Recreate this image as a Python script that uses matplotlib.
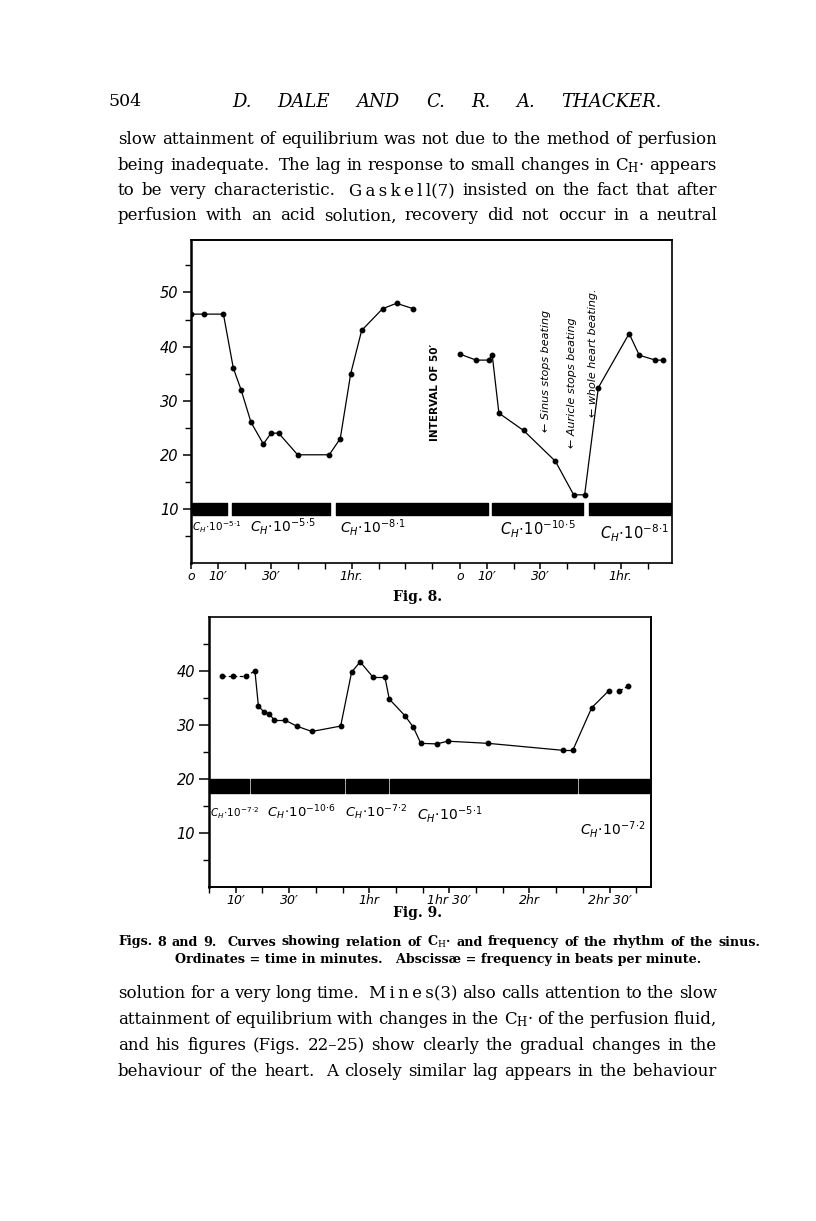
import matplotlib
matplotlib.use('Agg')
import matplotlib.pyplot as plt

W, H = 816, 1221
plt.rcParams['mathtext.fontset'] = 'dejavuserif'

# ---- Fig. 8 : minutes against beats per minute ----
fig8_t1 = [0, 5.0, 12.1, 15.8, 18.7, 22.4, 27.0, 29.9, 32.7, 39.8, 51.6, 55.7, 59.6, 63.7, 71.5, 76.7, 82.9]
fig8_f1 = [46, 46, 46, 36, 32, 26, 22, 24, 24, 20, 20, 23, 35, 43, 47, 48, 47]
# second run, after the interval of 50'
fig8_t2 = [0, 6.0, 10.7, 12.0, 14.5, 23.7, 35.6, 42.4, 46.5, 51.6, 63.1, 66.9, 72.9, 75.7]
fig8_f2 = [38.6, 37.5, 37.5, 38.5, 27.7, 24.5, 18.8, 12.6, 12.6, 32.4, 42.4, 38.4, 37.5, 37.5]
fig8_offset = 100.4
fig8_bar_start = [0, 15.3, 54.1, 112.3, 148.5]
fig8_bar_end = [13.4, 51.9, 110.8, 146.3, 179.5]
fig8_labels = [r'$C_{H}\!\cdot\!10^{-5\!\cdot\!1}$', r'$C_{H}\!\cdot\!10^{-5\!\cdot\!5}$', r'$C_{H}\!\cdot\!10^{-8\!\cdot\!1}$',
               r'$C_{H}\!\cdot\!10^{-10\!\cdot\!5}$', r'$C_{H}\!\cdot\!10^{-8\!\cdot\!1}$']
fig8_xticks = [0, 10, 30, 60]
fig8_xticklabels = ['o', "10\u2032", "30\u2032", '1hr.']
fig8_notes = ['\u2190 Sinus stops beating', '\u2190 Auricle stops beating', '\u2190 whole heart beating.']

# ---- Fig. 9 ----
fig9_t = [5.0, 8.9, 13.7, 17.2, 18.5, 20.6, 22.6, 24.5, 28.5, 32.8, 38.5, 49.3, 53.4, 56.6, 61.5, 65.9, 67.5,
          73.4, 76.5, 79.3, 85.3, 89.4, 104.6, 132.7, 136.2, 143.3, 149.6, 153.7, 157.0]
fig9_f = [39.0, 39.0, 39.0, 40.0, 33.5, 32.4, 32.0, 30.9, 30.9, 29.8, 28.8, 29.8, 39.8, 41.7, 38.8, 38.8, 34.8,
          31.7, 29.6, 26.6, 26.5, 27.0, 26.6, 25.3, 25.3, 33.2, 36.3, 36.3, 37.2]
fig9_bar_edges = [0, 15, 50.6, 67, 137.8, 165.5]
fig9_labels = [r'$C_{H}\!\cdot\!10^{-7\!\cdot\!2}$', r'$C_{H}\!\cdot\!10^{-10\!\cdot\!6}$', r'$C_{H}\!\cdot\!10^{-7\!\cdot\!2}$',
               r'$C_{H}\!\cdot\!10^{-5\!\cdot\!1}$', r'$C_{H}\!\cdot\!10^{-7\!\cdot\!2}$']
fig9_xticks = [10, 30, 60, 90, 120, 150]
fig9_xticklabels = ["10\u2032", "30\u2032", '1hr', "1hr 30\u2032", '2hr', "2hr 30\u2032"]

top_para = ["slow attainment of equilibrium was not due to the method of perfusion",
            "being inadequate.  The lag in response to small changes in C$_\\mathrm{H}$\u00b7 appears",
            "to be very characteristic.  G\u2009a\u2009s\u2009k\u2009e\u2009l\u2009l(7) insisted on the fact that after",
            "perfusion with an acid solution, recovery did not occur in a neutral"]
bottom_para = ["solution for a very long time.  M\u2009i\u2009n\u2009e\u2009s(3) also calls attention to the slow",
               "attainment of equilibrium with changes in the C$_\\mathrm{H}$\u00b7 of the perfusion fluid,",
               "and his figures (Figs. 22\u201325) show clearly the gradual changes in the",
               "behaviour of the heart.  A closely similar lag appears in the behaviour"]

fig = plt.figure(figsize=(W / 100, H / 100), dpi=100)
fig.patch.set_facecolor('white')


def fy(y):
    return 1 - y / H


def justify(line, y, x0=118, x1=717, **kw):
    toks = line.split(' ')
    objs = [fig.text(0, fy(y), t, va='center', **kw) if t else None for t in toks]
    r = fig.canvas.get_renderer()
    widths = [o.get_window_extent(r).width if o else 0 for o in objs]
    gap = (x1 - x0 - sum(widths)) / (len(toks) - 1)
    x = x0
    for o, w in zip(objs, widths):
        if o:
            o.set_x(x / W)
        x += w + gap


serif = dict(family='DejaVu Serif', fontsize=12.0)
fig.text(108 / W, fy(102), '504', va='center', family='DejaVu Serif', fontsize=12.5)
justify('D. DALE AND C. R. A. THACKER.', 102, 232, 662, family='DejaVu Serif', fontsize=13, style='italic')
for i, line in enumerate(top_para):
    justify(line, 140 + i * 25.3, **serif)
for i, line in enumerate(bottom_para):
    justify(line, 994 + i * 25.7, **serif)

hand = dict(style='italic', family='DejaVu Sans', fontsize=10.5)
hx = dict(style='italic', family='DejaVu Sans', fontsize=9)

# ---------------- Fig. 8 ----------------
ax = fig.add_axes([191 / W, fy(563), 481 / W, 323 / H])
ax.set_xlim(0, 179.5)
ax.set_ylim(0, 59.7)
ax.plot(fig8_t1, fig8_f1, '-o', color='k', lw=0.9, ms=3.2)
ax.plot([fig8_offset + t for t in fig8_t2], fig8_f2, '-o', color='k', lw=0.9, ms=3.2)
ax.broken_barh([(s, e - s) for s, e in zip(fig8_bar_start, fig8_bar_end)], (8.9, 2.2), color='k')
for lab, x, y, fs in zip(fig8_labels, [0.3, 22, 55.6, 115.3, 152.6], [6.6, 6.8, 6.5, 6.2, 5.4],
                         [7.5, 10, 10, 10.5, 10.5]):
    ax.text(x, y, lab, fontsize=fs, math_fontfamily='dejavusans', va='center')
ax.text(91, 31.6, "INTERVAL OF 50\u2032", rotation=90, ha='center', va='center',
        fontsize=7.5, weight='bold', family='DejaVu Sans')
for note, x, y in zip(fig8_notes, [132.5, 142.2, 150], [24.2, 21.2, 27.0]):
    ax.text(x, y, note, rotation=90, ha='center', va='bottom', **dict(hand, fontsize=8))
ax.set_yticks([10, 20, 30, 40, 50])
ax.set_yticklabels(['10', '20', '30', '40', '50'], **hand)
ax.set_yticks([5, 15, 25, 35, 45, 55], minor=True)
ax.set_xticks(fig8_xticks + [fig8_offset + t for t in fig8_xticks])
ax.set_xticklabels(fig8_xticklabels * 2, **hx)
ax.set_xticks(list(range(0, 100, 10)) + [fig8_offset + t for t in range(0, 80, 10)], minor=True)
ax.tick_params(which='major', direction='out', length=6, width=1.1, pad=3)
ax.tick_params(axis='x', which='major', length=4, pad=1)
ax.tick_params(which='minor', direction='out', length=4, width=1.0)
for side, lw in zip(['left', 'bottom', 'top', 'right'], [1.8, 1.2, 1.4, 1.2]):
    ax.spines[side].set_linewidth(lw)
fig.text(418 / W, fy(597), 'Fig. 8.', ha='center', va='center', family='DejaVu Serif', fontsize=10, weight='bold')

# ---------------- Fig. 9 ----------------
ax9 = fig.add_axes([209 / W, fy(887), 442 / W, 270 / H])
ax9.set_xlim(0, 165.5)
ax9.set_ylim(0, 50)
dashed = [0, 1, 2, 27]
for i in range(len(fig9_t) - 1):
    if i == 26:
        continue
    ax9.plot(fig9_t[i:i + 2], fig9_f[i:i + 2], color='k', lw=0.9, ls=(0, (3, 2)) if i in dashed else '-')
ax9.plot(fig9_t, fig9_f, 'o', color='k', ms=3.2)
ax9.broken_barh([(s + (0.8 if s > 0 else 0), e - s - (0.8 if s > 0 else 0))
                 for s, e in zip(fig9_bar_edges[:-1], fig9_bar_edges[1:])], (17.4, 2.6), color='k')
for lab, x, y, fs in zip(fig9_labels, [0.3, 21.7, 51, 78, 139], [13.7, 13.7, 13.7, 13.5, 10.6],
                         [7.5, 9.5, 9.5, 10, 10]):
    ax9.text(x, y, lab, fontsize=fs, math_fontfamily='dejavusans', va='center')
ax9.set_yticks([10, 20, 30, 40])
ax9.set_yticklabels(['10', '20', '30', '40'], **hand)
ax9.set_yticks([5, 15, 25, 35, 45], minor=True)
ax9.set_xticks(fig9_xticks)
ax9.set_xticklabels(fig9_xticklabels, **hx)
ax9.set_xticks(list(range(0, 170, 10)), minor=True)
ax9.tick_params(which='major', direction='out', length=7, width=1.1, pad=3)
ax9.tick_params(axis='x', which='major', length=4, pad=1)
ax9.tick_params(which='minor', direction='out', length=4, width=1.0)
for side, lw in zip(['left', 'bottom', 'top', 'right'], [1.8, 1.4, 1.2, 1.4]):
    ax9.spines[side].set_linewidth(lw)
fig.text(418 / W, fy(913), 'Fig. 9.', ha='center', va='center', family='DejaVu Serif', fontsize=10, weight='bold')

cap = dict(family='DejaVu Serif', fontsize=9.2, weight='bold')
justify("Figs. 8 and 9.  Curves showing relation of C$_\\mathrm{H}$\u00b7 and frequency of the rhythm of the sinus.",
        942, 118, 760, **cap)
fig.text(438 / W, fy(959), 'Ordinates = time in minutes.   Absciss\u00e6 = frequency in beats per minute.',
         ha='center', va='center', **cap)

fig.savefig('out.png', dpi=100)
